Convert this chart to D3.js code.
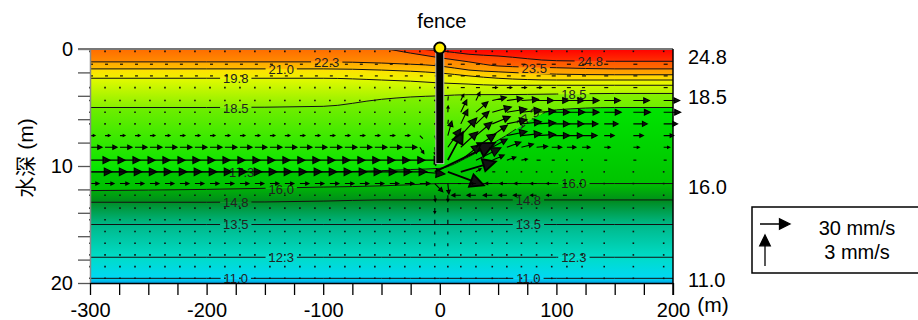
<!DOCTYPE html>
<html>
<head>
<meta charset="utf-8">
<script src="https://cdn.jsdelivr.net/npm/d3@7"></script>
<style>
  body { margin: 0; background: #fff; }
  svg text { font-family: "Liberation Sans", Arial, "Noto Sans CJK SC", sans-serif; }
</style>
</head>
<body>
<svg id="chart" width="918" height="320"></svg>
<script>
// ---- data ----
// temperature contours (degC), depth (m) of each contour at contourX (m)
const contourLevels = [11.0, 12.3, 13.5, 14.8, 16.0, 17.3, 18.5, 19.8, 21.0, 22.3, 23.5, 24.8];
const contourX = [-300, -200, -100, -50, -25, 0, 25, 50, 100, 150, 200];
const contourDepth = [
  [19.6, 19.6, 19.6, 19.6, 19.6, 19.6, 19.6, 19.6, 19.6, 19.6, 19.6],
  [17.8, 17.8, 17.8, 17.8, 17.8, 17.8, 17.8, 17.8, 17.8, 17.8, 17.8],
  [15.0, 15.0, 15.0, 15.0, 15.0, 15.0, 15.0, 15.0, 15.0, 15.0, 15.0],
  [13.1, 13.1, 13.0, 12.9, 12.9, 12.9, 12.9, 12.9, 12.9, 12.9, 12.9],
  [12.1, 12.0, 11.8, 11.7, 11.6, 11.5, 11.5, 11.5, 11.5, 11.5, 11.5],
  [10.5, 10.5, 10.5, 10.4, 10.3, 10.2, 9.2, 7.8, 5.2, 5.0, 5.0],
  [5.0, 5.0, 4.9, 4.3, 4.1, 4.0, 3.9, 3.9, 3.85, 3.8, 3.8],
  [2.5, 2.5, 2.5, 2.65, 2.75, 2.9, 3.0, 3.1, 3.1, 3.1, 3.1],
  [1.7, 1.7, 1.7, 1.8, 1.9, 2.05, 2.3, 2.5, 2.65, 2.65, 2.65],
  [1.1, 1.1, 1.1, 1.2, 1.3, 1.45, 1.8, 1.95, 2.15, 2.2, 2.2],
  [0, 0, 0, 0, 0.35, 0.75, 1.1, 1.45, 1.6, 1.7, 1.7],
  [0, 0, 0, 0, 0, 0.15, 0.45, 0.6, 1.0, 1.05, 1.05]
];

// contour labels
const labelLevel = [22.3, 21.0, 19.8, 18.5, 17.3, 16.0, 14.8, 13.5, 12.3, 11.0, 24.8, 23.5, 18.5, 17.3, 16.0, 14.8, 13.5, 12.3, 11.0];
const labelX = [-97, -136, -175, -175, -170, -136, -175, -175, -136, -175, 129, 81, 115, 75, 115, 76, 76, 115, 76];
const labelDepth = [1.1, 1.75, 2.5, 5.1, 10.5, 12.0, 13.1, 15.0, 17.8, 19.6, 1.03, 1.62, 3.85, 5.9, 11.5, 12.9, 15.0, 17.8, 19.6];
const labelAngle = [0, 0, 0, 0, 0, 0, 0, 0, 0, 0, 0, 0, 0, -38, 0, 0, 0, 0, 0];

// colour ramp
const colorTemps = [10.5, 11.0, 11.6, 12.3, 13.5, 14.2, 14.8, 16.0, 17.3, 18.5, 19.8, 21.0, 22.3, 23.5, 24.8, 26.0];
const colorHex = ["#00a4e4", "#00d8f4", "#00f8f8", "#00dcc8", "#00b888", "#009650", "#008a1c", "#00c000",
                  "#00e400", "#88f000", "#e4fa00", "#ffe000", "#ffa800", "#ff6c00", "#ff3000", "#ff0000"];

// velocity grid (m), u horizontal (mm/s), w vertical (mm/s, + up)
const gridX = [-300, -287.1, -274.3, -261.4, -248.6, -235.7, -222.9, -210, -197.1, -184.3, -171.4,
               -158.6, -145.7, -132.9, -120, -107.1, -94.3, -81.4, -68.6, -55.7, -42.9, -30,
               -17.1, -4.3, 6.9, 18, 31, 45, 57.5, 70, 83, 96, 109, 122, 141, 166, 192];
const gridDepth = [0.2, 1.3, 2.3, 3.3, 4.4, 5.4, 6.4, 7.4, 8.4, 9.5, 10.5, 11.5, 12.5, 13.6, 14.6, 15.6, 16.6, 17.6, 18.6, 19.6];
const upstreamU = [1, 3, 3, 1, 1, 1, 1, 5, 12, 20, 22, 9, 1, 1, 1, 1, 1, 1, 1, 1];
const downstreamU = [1, 4, 4, 4, 16, 17, 14, 10, 6, 3, 1, 2, 2, 1, 1, 1, 1, 1, 1, 1];

// near the fence: rows 3..16, columns nearX
const nearX = [-17.1, -4.3, 6.9, 18, 31, 45, 57.5, 70, 83, 96, 109, 122];
const nearRowStart = 3;
const nearU = [
  [1, 1, 1, 4, 4, 5, 5, 5, 5, 4, 4, 3],
  [1, 1, 0.5, 3, 4, 14, 16, 17, 17, 17, 17, 17],
  [1, 1, 0.3, 6, 12, 19, 20, 20, 19, 18, 18, 17],
  [1, 1, 0.5, 7, 13, 18, 20, 20, 19, 18, 17, 16],
  [3, 1, 4, 16, 16, 15, 20, 20, 19, 18, 16, 15],
  [4, 1, 13, 17, 20, 15, 14, 12, 11, 10, 9, 8],
  [22, 1, 15, 20, 25, 12, 9, 6, 4, 3, 2, 1],
  [25, 60, 36, 35, 5, 3, 1, 1, 1, 1, 1, 1],
  [10, 8, 1, -3, -5, -7, -7, -7, -6, -5, -4, -3],
  [2, 0.5, 0, -9, -9, -9, -8, -8, -6, -5, -4, -3],
  [1, 0, 0, 1, 1, 1, 1, 1, 1, 1, 1, 1],
  [1, 0, 0, 1, 1, 1, 1, 1, 1, 1, 1, 1],
  [1, 0, 0, 1, 1, 1, 1, 1, 1, 1, 1, 1],
  [1, 0, 0, 1, 1, 1, 1, 1, 1, 1, 1, 1]
];
const nearW = [
  [0, 0, 0, 0, 0, 0, 0, 0, 0, 0, 0, 0],
  [0, 0, 0.4, 0.6, 0.8, 0.3, 0.2, 0.1, 0, 0, 0, 0],
  [0, 0, 0.6, 1.2, 1.0, 0.5, 0.3, 0.2, 0.1, 0, 0, 0],
  [0, 0, 0.4, 1.4, 1.2, 0.7, 0.4, 0.2, 0.1, 0, 0, 0],
  [-0.3, -0.4, 1.4, 1.7, 1.3, 1.0, 0.4, 0.2, 0.1, 0, 0, 0],
  [-0.6, -0.8, 1.8, 1.5, 1.3, 0.8, 0.5, 0.3, 0.1, 0, 0, 0],
  [0, -0.5, 2.7, 1.5, 1.2, 0.5, 0.3, 0.1, 0, 0, 0, 0],
  [-0.2, 2.8, -1.3, 1.0, 0.3, 0, 0, 0, 0, 0, 0, 0],
  [0, -0.8, -1.0, 0, 0, 0, 0, 0, 0, 0, 0, 0],
  [0, -0.6, -0.6, 0, 0, 0, 0, 0, 0, 0, 0, 0],
  [0, -0.5, -0.4, 0, 0, 0, 0, 0, 0, 0, 0, 0],
  [0, -0.4, -0.4, 0, 0, 0, 0, 0, 0, 0, 0, 0],
  [0, -0.3, -0.3, 0, 0, 0, 0, 0, 0, 0, 0, 0],
  [0, -0.3, -0.3, 0, 0, 0, 0, 0, 0, 0, 0, 0]
];

const fenceX = 0;
const fenceDepth = 9.8;

// axes
const xTicks = [-300, -275, -250, -225, -200, -175, -150, -125, -100, -75, -50, -25, 0, 25, 50, 75, 100, 125, 150, 175, 200];
const xLabels = [-300, -200, -100, 0, 100, 200];
const yTicks = [0, 2, 4, 6, 8, 10, 12, 14, 16, 18, 20];
const yLabels = [0, 10, 20];
const rightLabelText = ["24.8", "18.5", "16.0", "11.0"];
const rightLabelDepth = [0.7, 4.1, 11.8, 19.7];

// legend
const legendU = 30;
const legendW = 3;

// ---- chart ----
const svg = d3.select("#chart");
const x = d3.scaleLinear().domain([-300, 200]).range([90, 673]);
const y = d3.scaleLinear().domain([0, 20]).range([49, 283]);
const color = d3.scaleLinear().domain(colorTemps).range(colorHex);
const uPx = d3.scaleLinear().domain([0, 30]).range([0, 30]);
const wPx = d3.scaleLinear().domain([0, 3]).range([0, 31]);

const defs = svg.append("defs");
defs.append("clipPath").attr("id", "plotClip")
  .append("rect")
    .attr("x", x(-300)).attr("y", y(0))
    .attr("width", x(200) - x(-300)).attr("height", y(20) - y(0));

// filled bands between contours
const nL = contourLevels.length;
const bands = d3.range(nL + 1).map(i => ({
  upper: i === nL ? contourX.map(() => 0) : contourDepth[i],
  lower: i === 0 ? contourX.map(() => 20) : contourDepth[i - 1],
  tTop: i === nL ? 26 : contourLevels[i],
  tBot: i === 0 ? 10.5 : contourLevels[i - 1]
}));

const grads = defs.selectAll("linearGradient")
  .data(bands)
  .join("linearGradient")
    .attr("id", (d, i) => "band" + i)
    .attr("x1", 0).attr("y1", 0).attr("x2", 0).attr("y2", 1);
grads.append("stop").attr("offset", 0).attr("stop-color", d => color(d.tTop));
grads.append("stop").attr("offset", 1).attr("stop-color", d => color(d.tBot));

const idx = contourX.map((d, i) => i);
const fillG = svg.append("g").attr("clip-path", "url(#plotClip)");
fillG.selectAll("path")
  .data(bands)
  .join("path")
    .attr("d", b => d3.area()
      .x(i => x(contourX[i]))
      .y0(i => y(b.upper[i]))
      .y1(i => y(b.lower[i]))
      .curve(d3.curveMonotoneX)(idx))
    .attr("fill", (d, i) => `url(#band${i})`)
    .attr("stroke", (d, i) => `url(#band${i})`)
    .attr("stroke-width", 0.6);

// contour labels (measured first to cut gaps in the lines)
const labels = labelLevel.map((lv, i) => ({ lv, cx: x(labelX[i]), cy: y(labelDepth[i]), a: labelAngle[i] }));
const labelG = svg.append("g");
const labelText = labelG.selectAll("text")
  .data(labels)
  .join("text")
    .attr("transform", d => `translate(${d.cx},${d.cy}) rotate(${d.a})`)
    .attr("dy", "0.36em")
    .attr("text-anchor", "middle")
    .attr("font-size", 13)
    .attr("fill", "#222")
    .text(d => d3.format(".1f")(d.lv));

const mask = defs.append("mask").attr("id", "lblMask").attr("maskUnits", "userSpaceOnUse")
  .attr("x", 0).attr("y", 0).attr("width", 918).attr("height", 320);
mask.append("rect").attr("width", 918).attr("height", 320).attr("fill", "#fff");
labelText.each(function (d) {
  const w = this.getComputedTextLength();
  mask.append("rect")
    .attr("x", -w / 2 - 3).attr("y", -6).attr("width", w + 6).attr("height", 12)
    .attr("transform", `translate(${d.cx},${d.cy}) rotate(${d.a})`)
    .attr("fill", "#000");
});

const linesG = svg.insert("g", () => labelG.node())
  .attr("clip-path", "url(#plotClip)");
linesG.append("g").attr("mask", "url(#lblMask)")
  .selectAll("path")
  .data(contourDepth)
  .join("path")
    .attr("d", dep => d3.line()
      .x(i => x(contourX[i]))
      .y(i => y(dep[i]))
      .curve(d3.curveMonotoneX)(idx))
    .attr("fill", "none")
    .attr("stroke", "#111")
    .attr("stroke-width", 1);

// velocity vectors
function arrowPath(x0, y0, dx, dy) {
  const len = Math.hypot(dx, dy);
  if (len < 2.5) return `M${x0 - 0.8},${y0 - 0.8}h1.6v1.6h-1.6z`;
  const tx = x0 + dx, ty = y0 + dy;
  if (len < 5) return `M${x0},${y0}L${tx},${ty}`;
  const ux = dx / len, uy = dy / len;
  const hl = Math.min(len * 0.35, 16), hw = Math.min(len * 0.17, 7.5);
  const bx = tx - ux * hl, by = ty - uy * hl;
  return `M${x0},${y0}L${bx + ux},${by + uy}M${tx},${ty}L${bx - uy * hw},${by + ux * hw}L${bx + uy * hw},${by - ux * hw}Z`;
}

const vectors = [];
gridX.forEach(gx => {
  const j = nearX.indexOf(gx);
  gridDepth.forEach((gd, r) => {
    const nr = r - nearRowStart;
    let u, w = 0;
    if (j >= 0 && nr >= 0 && nr < nearU.length) { u = nearU[nr][j]; w = nearW[nr][j]; }
    else if (gx < fenceX) u = upstreamU[r];
    else u = downstreamU[r];
    vectors.push({ gx, gd, u, w });
  });
});

svg.append("g")
  .selectAll("path")
  .data(vectors)
  .join("path")
    .attr("d", d => arrowPath(x(d.gx), y(d.gd), uPx(d.u), -wPx(d.w)))
    .attr("fill", "#111")
    .attr("stroke", d => Math.hypot(uPx(d.u), wPx(d.w)) < 2.5 ? "none" : "#000")
    .attr("stroke-width", d => Math.hypot(uPx(d.u), wPx(d.w)) > 30 ? 1.8 : 1.1)
    .attr("stroke-linejoin", "miter");

// fence
svg.append("rect")
  .attr("x", x(fenceX) - 4).attr("y", y(0))
  .attr("width", 8).attr("height", y(fenceDepth) - y(0))
  .attr("fill", "#000").attr("stroke", "#bbb").attr("stroke-width", 1);

// axes
const yAxis = d3.axisLeft(y)
  .tickValues(yTicks)
  .tickFormat(d => yLabels.includes(d) ? d : "")
  .tickSize(12).tickPadding(5).tickSizeOuter(0);
const yAxisG = svg.append("g").attr("transform", `translate(${x(-300)},0)`).call(yAxis);
yAxisG.select(".domain").attr("stroke", "#888").attr("stroke-width", 1.5);
yAxisG.selectAll(".tick line").attr("stroke", "#555").attr("stroke-width", 1.3);
yAxisG.selectAll("text").attr("font-size", 20).attr("fill", "#000").attr("font-family", "Liberation Sans, Arial, sans-serif");

const xAxis = d3.axisBottom(x)
  .tickValues(xTicks)
  .tickFormat(d => xLabels.includes(d) ? String(d) : "")
  .tickSize(12).tickPadding(8).tickSizeOuter(0);
const xAxisG = svg.append("g").attr("transform", `translate(0,${y(20)})`).call(xAxis);
xAxisG.select(".domain").attr("stroke", "#000").attr("stroke-width", 1.5);
xAxisG.selectAll(".tick line").attr("stroke", "#000").attr("stroke-width", 1.3);
xAxisG.selectAll("text").attr("font-size", 20).attr("fill", "#000").attr("font-family", "Liberation Sans, Arial, sans-serif");

// frame: top (grey) and right (black)
svg.append("line")
  .attr("x1", x(-300) - 12).attr("x2", x(200))
  .attr("y1", y(0)).attr("y2", y(0))
  .attr("stroke", "#777").attr("stroke-width", 2);
svg.append("line")
  .attr("x1", x(200)).attr("x2", x(200))
  .attr("y1", y(0)).attr("y2", y(20) + 12)
  .attr("stroke", "#000").attr("stroke-width", 1.5);

// fence top marker
svg.append("circle")
  .attr("cx", x(fenceX)).attr("cy", y(0) - 1).attr("r", 5.5)
  .attr("fill", "#ffee00").attr("stroke", "#000").attr("stroke-width", 2);

svg.append("text")
  .attr("x", x(fenceX) + 2).attr("y", 28)
  .attr("text-anchor", "middle").attr("font-size", 20)
  .text("fence");

// axis units
svg.append("text")
  .attr("x", 713).attr("y", 312)
  .attr("text-anchor", "middle").attr("font-size", 21)
  .text("(m)");

svg.append("text")
  .attr("transform", `translate(33,158) rotate(-90)`)
  .attr("text-anchor", "middle").attr("font-size", 21)
  .text("水深 (m)");

// right-hand contour values
svg.append("g")
  .selectAll("text")
  .data(rightLabelText)
  .join("text")
    .attr("x", x(200) + 15)
    .attr("y", (d, i) => y(rightLabelDepth[i]))
    .attr("dy", "0.36em")
    .attr("font-size", 20)
    .text(d => d);

// legend
const leg = svg.append("g");
leg.append("rect")
  .attr("x", 752).attr("y", 207).attr("width", 200).attr("height", 66)
  .attr("fill", "#fff").attr("stroke", "#000").attr("stroke-width", 1.5);
leg.append("path")
  .attr("d", arrowPath(760, 224, uPx(legendU), 0))
  .attr("fill", "#000").attr("stroke", "#000").attr("stroke-width", 1.3);
leg.append("path")
  .attr("d", arrowPath(765, 266, 0, -wPx(legendW)))
  .attr("fill", "#000").attr("stroke", "#000").attr("stroke-width", 1.3);
leg.append("text")
  .attr("x", 857).attr("y", 235).attr("text-anchor", "middle").attr("font-size", 20)
  .text(legendU + " mm/s");
leg.append("text")
  .attr("x", 857).attr("y", 259).attr("text-anchor", "middle").attr("font-size", 20)
  .text(legendW + " mm/s");
</script>
</body>
</html>
